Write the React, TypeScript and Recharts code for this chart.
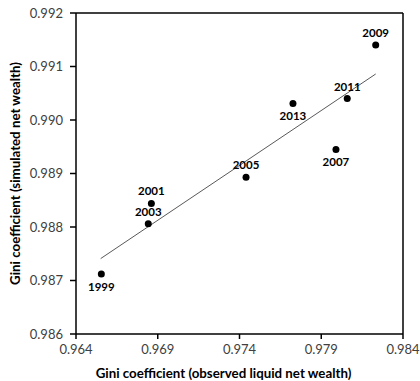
import { ScatterChart, Scatter, XAxis, YAxis, ReferenceLine, Label } from "recharts";

const years = ["1999", "2001", "2003", "2005", "2007", "2009", "2011", "2013"];
const observed = [0.96555, 0.96861, 0.96842, 0.9744, 0.9799, 0.98233, 0.98059, 0.97727];
const simulated = [0.98712, 0.98844, 0.98806, 0.98893, 0.98945, 0.9914, 0.9904, 0.99031];
const labelSide = ["below", "above", "above", "above", "below", "above", "above", "below"];

// fitted line, endpoints
const trendX = [0.96551, 0.98233];
const trendY = [0.98741, 0.99086];

const xTicks = [0.964, 0.969, 0.974, 0.979, 0.984];
const yTicks = [0.986, 0.987, 0.988, 0.989, 0.99, 0.991, 0.992];

const FONT = "Lato, 'Open Sans', sans-serif";

const points = years.map((year, i) => ({
  year,
  x: observed[i],
  y: simulated[i],
  side: labelSide[i],
}));
const trend = trendX.map((x, i) => ({ x, y: trendY[i] }));

const PointShape = (props: any) => {
  const { cx, cy, payload } = props;
  const above = payload.side === "above";
  return (
    <g>
      <circle cx={cx} cy={cy} r={3.5} fill="#000" />
      <text
        x={cx}
        y={above ? cy - 8 : cy + 8}
        dy={above ? 0 : "0.75em"}
        textAnchor="middle"
        fontSize={11.5}
        fontWeight="bold"
        fontFamily={FONT}
        fill="#000"
      >
        {payload.year}
      </text>
    </g>
  );
};

const tickStyle = { fontSize: 13, fill: "#404040", fontFamily: FONT };

export default function App() {
  return (
    <div style={{ position: "absolute", left: 0, top: 0, background: "#fff" }}>
      <ScatterChart width={420} height={381} margin={{ top: 13, right: 17, bottom: 0, left: 0 }}>
        <XAxis
          type="number"
          dataKey="x"
          domain={[0.964, 0.984]}
          ticks={xTicks}
          tickFormatter={(v: number) => v.toFixed(3)}
          height={47}
          tick={tickStyle}
          tickSize={5}
          tickMargin={6}
          axisLine={{ stroke: "#000", strokeWidth: 1.5 }}
          tickLine={{ stroke: "#000", strokeWidth: 1.5 }}
        >
          <Label
            value="Gini coefficient (observed liquid net wealth)"
            position="insideBottom"
            offset={3}
            dx={-16}
            style={{ fontSize: 13.3, fontWeight: "bold", fill: "#000", fontFamily: FONT }}
          />
        </XAxis>
        <YAxis
          type="number"
          dataKey="y"
          domain={[0.986, 0.992]}
          ticks={yTicks}
          tickFormatter={(v: number) => v.toFixed(3)}
          width={76}
          tick={tickStyle}
          tickSize={6}
          tickMargin={7}
          axisLine={{ stroke: "#000", strokeWidth: 1.5 }}
          tickLine={{ stroke: "#000", strokeWidth: 1.5 }}
        >
          <Label
            content={(p: any) => {
              const vb = p.viewBox;
              const cx = vb.x + 15;
              const cy = vb.y + vb.height / 2;
              return (
                <text
                  x={cx}
                  y={cy}
                  transform={`rotate(-90 ${cx} ${cy})`}
                  textAnchor="middle"
                  dominantBaseline="central"
                  fontSize={13.3}
                  fontWeight="bold"
                  fill="#000"
                  fontFamily={FONT}
                >
                  Gini coefficient (simulated net wealth)
                </text>
              );
            }}
          />
        </YAxis>
        <ReferenceLine y={0.992} stroke="#000" strokeWidth={1.5} />
        <ReferenceLine x={0.984} stroke="#000" strokeWidth={1.5} />
        <Scatter
          data={trend}
          line={{ stroke: "#595959", strokeWidth: 1 }}
          shape={() => <g />}
          isAnimationActive={false}
        />
        <Scatter data={points} shape={PointShape} isAnimationActive={false} />
      </ScatterChart>
    </div>
  );
}
